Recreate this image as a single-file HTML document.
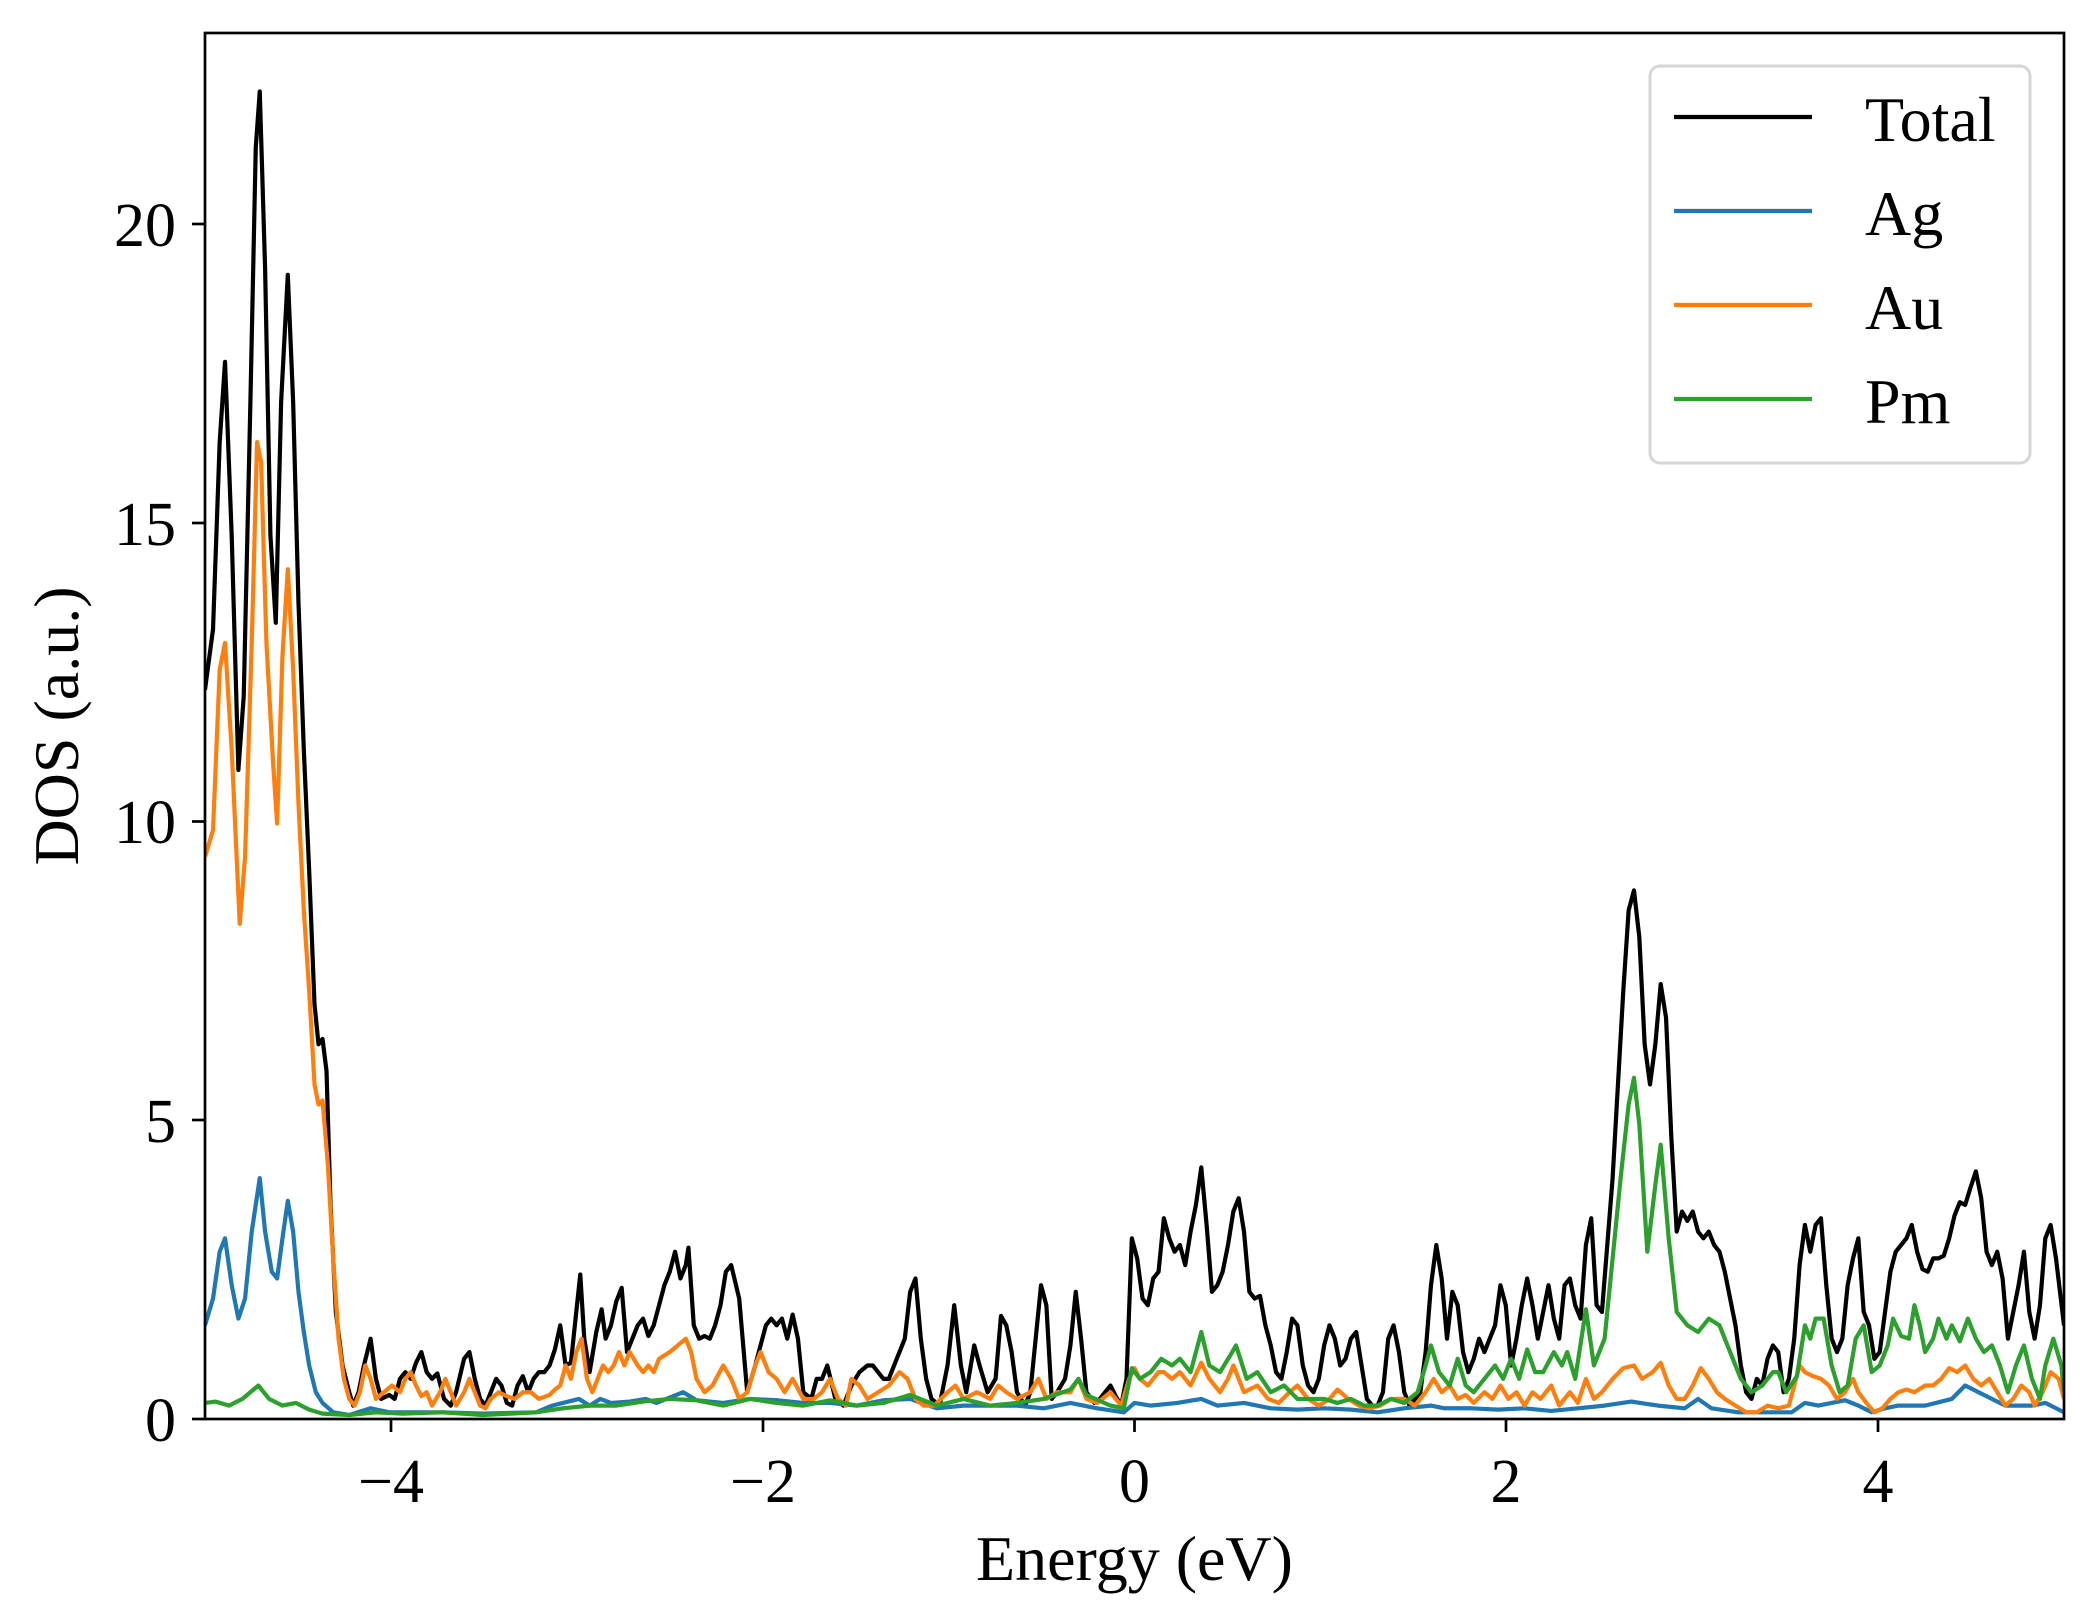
<!DOCTYPE html>
<html><head><meta charset="utf-8"><style>
html,body{margin:0;padding:0;background:#fff;}
svg{display:block;}
text{font-family:"Liberation Serif","Times New Roman",serif;fill:#000;}
</style></head><body>
<svg width="2097" height="1617" viewBox="0 0 2097 1617" xmlns="http://www.w3.org/2000/svg">
<defs><clipPath id="c"><rect x="205" y="33" width="1859" height="1386"/></clipPath></defs>
<g clip-path="url(#c)">
<g transform="matrix(1.3355,0,0,1.3382,2,0.5)" fill="none" stroke-linejoin="round">
<polyline vector-effect="non-scaling-stroke" stroke="#000" stroke-width="4.2" points="152,515 158,470 163,330 167,270 172,400 177,575 181,520 186,300 190,110 193,68 197,200 201,400 205,465 209,300 214,205 218,300 222,450 226,560 230,650 234,750 237,780 240,776 243,800 246,900 250,980 255,1020 260,1040 263,1050 267,1040 271,1020 276,1000 280,1030 284,1045 290,1042 294,1045 298,1030 302,1025 306,1030 310,1018 314,1010 318,1025 322,1030 326,1026 331,1045 336,1050 340,1040 346,1015 350,1010 354,1030 358,1045 362,1050 366,1040 370,1030 374,1035 378,1048 382,1050 386,1035 390,1028 394,1040 398,1030 402,1025 406,1025 410,1020 414,1008 418,990 422,1020 426,1018 430,980 433,952 436,1000 440,1025 445,995 449,978 452,1000 456,990 460,972 464,962 468,1010 472,1000 476,990 480,985 484,998 488,990 492,975 496,960 500,950 504,935 508,955 512,945 514,932 518,990 522,1000 526,998 530,1000 534,990 538,975 542,950 546,945 552,970 558,1040 564,1020 568,1005 572,990 576,985 580,990 584,985 588,1000 592,982 596,1000 600,1040 606,1045 610,1030 614,1030 618,1020 624,1045 630,1050 636,1035 642,1025 648,1020 652,1020 656,1025 660,1030 664,1030 670,1015 676,1000 680,965 684,955 688,1000 692,1030 696,1045 702,1050 708,1020 713,975 718,1020 722,1040 728,1005 732,1020 738,1040 744,1030 748,983 752,990 756,1010 760,1040 766,1050 770,1040 774,1000 778,960 782,975 786,1045 790,1040 796,1030 800,1005 804,965 808,1000 812,1040 818,1048 822,1045 826,1040 830,1035 834,1043 838,1050 842,1030 846,925 850,940 854,970 858,975 862,955 866,950 870,910 874,925 878,935 882,930 886,945 890,920 894,900 898,872 902,915 906,965 910,960 914,950 918,930 922,905 926,895 930,920 934,965 938,970 942,968 946,990 950,1005 954,1025 958,1030 962,1010 966,985 970,990 974,1020 978,1035 982,1040 986,1030 990,1005 994,990 998,1000 1002,1020 1006,1015 1010,1000 1014,995 1018,1020 1022,1045 1026,1050 1030,1050 1034,1040 1038,1000 1042,990 1046,1010 1050,1040 1054,1050 1058,1045 1062,1040 1066,1010 1070,960 1074,930 1078,955 1082,1000 1086,965 1090,975 1094,1010 1098,1025 1102,1015 1106,1000 1110,1010 1114,1000 1118,990 1122,960 1126,975 1130,1020 1134,1000 1138,975 1142,955 1146,975 1150,1000 1154,980 1158,960 1162,985 1166,1000 1170,960 1174,955 1178,975 1182,985 1186,930 1190,910 1194,975 1198,980 1202,930 1206,880 1210,810 1214,740 1218,680 1222,665 1226,700 1230,780 1234,810 1238,780 1242,735 1246,760 1250,850 1254,920 1258,905 1262,912 1266,905 1270,920 1274,925 1278,920 1282,930 1286,935 1290,950 1294,970 1298,990 1302,1020 1306,1040 1310,1045 1314,1030 1318,1035 1322,1015 1326,1005 1330,1010 1334,1040 1338,1030 1342,1000 1346,945 1350,915 1354,935 1358,915 1362,910 1366,960 1370,1000 1374,1010 1378,1000 1382,960 1386,940 1390,925 1394,980 1398,990 1402,1015 1406,1010 1410,980 1414,950 1418,935 1422,930 1426,925 1430,915 1434,935 1438,948 1442,950 1446,940 1450,940 1454,938 1458,925 1462,908 1466,898 1470,900 1474,887 1478,875 1482,895 1486,935 1490,945 1494,935 1498,955 1502,1000 1506,980 1510,960 1514,935 1518,980 1522,1000 1526,975 1530,925 1534,915 1538,940 1544,990"/>
<polyline vector-effect="non-scaling-stroke" stroke="#1f77b4" stroke-width="4.2" points="152,990 158,970 163,935 167,925 172,960 177,985 182,970 187,920 193,880 197,920 202,950 206,955 210,925 214,897 218,920 222,965 226,995 230,1020 235,1040 240,1048 248,1055 260,1057 276,1052 290,1055 310,1055 330,1055 360,1056 400,1055 412,1050 420,1048 432,1045 440,1050 448,1045 456,1048 470,1047 482,1045 490,1048 500,1044 510,1040 520,1046 540,1048 560,1045 580,1046 600,1048 620,1048 640,1050 660,1046 680,1045 700,1052 720,1050 740,1050 760,1050 780,1052 800,1048 820,1052 840,1055 848,1048 860,1050 880,1048 898,1045 910,1050 930,1048 950,1052 970,1053 990,1052 1010,1053 1030,1055 1050,1052 1070,1050 1080,1052 1100,1052 1120,1053 1140,1052 1160,1054 1180,1052 1200,1050 1220,1047 1240,1050 1260,1052 1270,1045 1280,1052 1300,1055 1320,1055 1340,1055 1350,1048 1360,1050 1380,1046 1390,1050 1400,1055 1410,1052 1420,1050 1440,1050 1460,1045 1470,1035 1480,1040 1500,1050 1520,1050 1530,1048 1544,1055"/>
<polyline vector-effect="non-scaling-stroke" stroke="#ff7f0e" stroke-width="4.2" points="152,640 158,620 163,500 167,480 172,560 178,690 182,640 187,480 191,330 194,345 198,480 203,570 206,615 210,490 214,425 218,500 222,600 226,680 230,740 234,810 237,825 240,822 244,870 248,940 252,1000 256,1030 260,1045 264,1050 268,1040 272,1020 276,1030 280,1045 286,1040 292,1035 298,1040 302,1030 306,1025 310,1035 314,1043 318,1040 322,1050 328,1040 332,1030 336,1040 340,1050 346,1040 350,1030 354,1040 358,1050 362,1052 366,1045 372,1040 378,1043 384,1045 390,1040 396,1040 402,1045 410,1042 414,1038 418,1035 422,1020 426,1030 430,1010 434,1000 438,1030 442,1040 446,1030 450,1020 454,1025 458,1020 462,1010 466,1020 470,1010 476,1020 480,1025 484,1020 488,1025 492,1015 500,1010 506,1005 512,1000 516,1010 520,1030 526,1040 532,1035 540,1020 546,1030 552,1045 558,1040 564,1020 568,1010 574,1025 580,1030 586,1040 592,1030 600,1045 608,1045 614,1040 620,1030 626,1045 632,1050 636,1030 642,1035 648,1045 656,1040 664,1035 672,1025 678,1030 684,1045 690,1050 698,1050 708,1040 714,1035 720,1045 730,1040 740,1045 746,1035 752,1040 760,1045 770,1040 776,1030 782,1045 790,1040 800,1040 806,1030 812,1045 820,1048 830,1040 838,1050 844,1030 848,1022 852,1030 858,1035 862,1030 866,1025 870,1025 876,1030 882,1025 890,1035 898,1018 904,1030 912,1040 918,1030 922,1020 930,1040 940,1035 948,1045 956,1048 964,1040 970,1035 978,1045 986,1050 994,1045 1000,1038 1008,1045 1016,1050 1024,1052 1032,1050 1040,1045 1050,1045 1058,1050 1066,1040 1072,1030 1078,1040 1084,1035 1090,1045 1096,1042 1102,1048 1110,1040 1116,1045 1122,1035 1128,1045 1134,1040 1140,1050 1146,1040 1152,1045 1160,1035 1166,1050 1174,1040 1180,1048 1186,1030 1192,1045 1198,1040 1206,1030 1214,1022 1222,1020 1228,1030 1236,1025 1242,1018 1248,1035 1254,1045 1260,1045 1266,1035 1272,1022 1278,1030 1284,1040 1290,1045 1298,1050 1306,1055 1314,1055 1322,1050 1330,1052 1338,1050 1342,1035 1346,1020 1350,1025 1356,1028 1362,1030 1368,1035 1374,1045 1380,1040 1386,1030 1390,1040 1396,1048 1402,1055 1408,1052 1414,1045 1420,1040 1426,1038 1432,1040 1440,1035 1446,1035 1452,1030 1458,1022 1464,1025 1470,1020 1476,1030 1482,1035 1488,1030 1494,1040 1500,1050 1506,1045 1512,1035 1518,1040 1522,1050 1528,1040 1534,1025 1540,1030 1544,1045"/>
<polyline vector-effect="non-scaling-stroke" stroke="#2ca02c" stroke-width="4.2" points="152,1048 160,1047 170,1050 180,1045 192,1035 200,1045 210,1050 220,1048 230,1053 240,1056 260,1057 280,1055 300,1056 330,1055 360,1057 400,1055 420,1052 440,1050 460,1050 480,1047 500,1045 520,1046 540,1050 560,1045 580,1048 600,1050 620,1046 640,1050 660,1048 680,1042 700,1050 720,1045 740,1050 760,1048 780,1045 800,1038 806,1030 812,1042 830,1050 840,1052 846,1022 852,1030 860,1025 868,1015 876,1020 882,1015 890,1025 898,995 904,1020 912,1025 920,1012 924,1005 932,1030 940,1025 950,1040 960,1035 970,1045 980,1045 990,1045 1000,1048 1010,1045 1020,1050 1030,1050 1040,1045 1050,1048 1060,1040 1066,1020 1070,1005 1076,1025 1084,1035 1090,1015 1096,1035 1102,1040 1110,1030 1118,1020 1124,1030 1130,1015 1136,1030 1142,1008 1148,1025 1154,1025 1162,1010 1168,1020 1172,1010 1178,1030 1186,978 1192,1020 1200,1000 1206,940 1212,880 1218,825 1222,805 1226,840 1232,935 1238,885 1242,855 1248,925 1254,980 1262,990 1270,995 1278,985 1286,990 1294,1010 1302,1030 1310,1040 1318,1035 1326,1025 1330,1025 1336,1040 1344,1028 1350,990 1354,1000 1358,985 1364,985 1370,1020 1376,1040 1382,1035 1388,1000 1394,990 1400,1025 1406,1020 1412,1005 1416,985 1422,998 1428,1000 1432,975 1436,990 1440,1010 1446,1000 1450,985 1456,1000 1460,990 1466,1002 1472,985 1478,1000 1484,1010 1490,1005 1496,1020 1502,1040 1508,1020 1514,1005 1520,1030 1526,1045 1530,1020 1536,1000 1542,1020 1544,1040"/>
</g></g>
<rect x="205" y="33" width="1859" height="1386" fill="none" stroke="#000" stroke-width="2.7"/>
<g stroke="#000" stroke-width="2.7">
<line x1="391" y1="1419" x2="391" y2="1432"/><line x1="763" y1="1419" x2="763" y2="1432"/><line x1="1134.5" y1="1419" x2="1134.5" y2="1432"/><line x1="1506" y1="1419" x2="1506" y2="1432"/><line x1="1878" y1="1419" x2="1878" y2="1432"/>
<line x1="192" y1="1419" x2="205" y2="1419"/><line x1="192" y1="1120" x2="205" y2="1120"/><line x1="192" y1="821.5" x2="205" y2="821.5"/><line x1="192" y1="523" x2="205" y2="523"/><line x1="192" y1="224" x2="205" y2="224"/>
</g>
<g font-size="62" text-anchor="middle">
<text x="391" y="1502">−4</text><text x="763" y="1502">−2</text><text x="1134.5" y="1502">0</text><text x="1506" y="1502">2</text><text x="1878" y="1502">4</text>
</g>
<g font-size="62" text-anchor="end">
<text x="176" y="1441">0</text><text x="176" y="1142">5</text><text x="176" y="843">10</text><text x="176" y="545">15</text><text x="176" y="246">20</text>
</g>
<text x="1134.5" y="1580" font-size="64" text-anchor="middle">Energy (eV)</text>
<text transform="translate(78,726) rotate(-90)" font-size="64" text-anchor="middle">DOS (a.u.)</text>
<rect x="1650" y="66" width="380" height="397" rx="10" fill="#fff" fill-opacity="0.8" stroke="#d6d6d6" stroke-width="3"/>
<g stroke-width="4.2">
<line x1="1674" y1="117" x2="1812" y2="117" stroke="#000"/>
<line x1="1674" y1="211" x2="1812" y2="211" stroke="#1f77b4"/>
<line x1="1674" y1="305" x2="1812" y2="305" stroke="#ff7f0e"/>
<line x1="1674" y1="399" x2="1812" y2="399" stroke="#2ca02c"/>
</g>
<g font-size="64">
<text x="1865" y="141">Total</text><text x="1865" y="235">Ag</text><text x="1865" y="329">Au</text><text x="1865" y="423">Pm</text>
</g>
</svg>
</body></html>
